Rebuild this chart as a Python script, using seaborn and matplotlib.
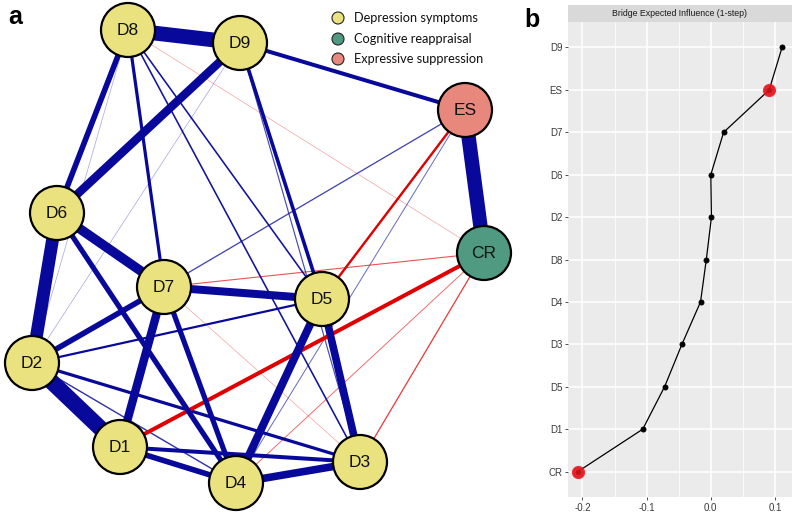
import matplotlib
matplotlib.use("Agg")
import matplotlib.pyplot as plt
from matplotlib.patches import Circle
import numpy as np
import pandas as pd
import seaborn as sns

# ---------------- data ----------------
# network nodes (layout coordinates, y downward)
node_names = ["D1", "D2", "D3", "D4", "D5", "D6", "D7", "D8", "D9", "CR", "ES"]
node_x = [120, 32, 360, 236, 322, 57, 164, 128, 240, 484, 465]
node_y = [447, 363, 462, 483, 299, 213, 287, 30, 43, 253, 110]
node_group = ["Depression symptoms"] * 9 + ["Cognitive reappraisal", "Expressive suppression"]

group_names = ["Depression symptoms", "Cognitive reappraisal", "Expressive suppression"]
group_colors = ["#EAE27E", "#4F9A80", "#E8877B"]

# edges (signed partial-correlation-like weights)
edge_from = ["D8", "ES", "D2", "D6", "D6", "D9", "D7", "D7", "D5", "D5", "D4",
             "D8", "D7", "D6", "D7", "D1", "D9", "D9", "D1", "D8", "D2", "D2",
             "D2", "D8", "D8", "D7", "D9", "ES", "D8", "D9",
             "CR", "ES", "CR", "D7", "CR", "D8", "D7"]
edge_to = ["D9", "CR", "D1", "D2", "D7", "D6", "D5", "D1", "D4", "D3", "D3",
           "D6", "D2", "D4", "D4", "D4", "ES", "D5", "D3", "D7", "D3", "D5",
           "D4", "D5", "D3", "ES", "D3", "D4", "D2", "D2",
           "D1", "D5", "D3", "CR", "D4", "CR", "D3"]
edge_weight = [0.37, 0.36, 0.40, 0.32, 0.24, 0.21, 0.20, 0.21, 0.20, 0.19, 0.19,
               0.14, 0.14, 0.13, 0.13, 0.14, 0.10, 0.09, 0.10, 0.08, 0.08, 0.055,
               0.035, 0.04, 0.04, 0.032, 0.03, 0.025, 0.015, 0.015,
               -0.10, -0.06, -0.032, -0.028, -0.024, -0.015, -0.015]

# bridge expected influence (1-step)
bei_nodes = ["D9", "ES", "D7", "D6", "D2", "D8", "D4", "D3", "D5", "D1", "CR"]
bei_values = [0.111, 0.091, 0.020, 0.000, 0.001, -0.007, -0.016, -0.045, -0.072, -0.106, -0.207]
bridge_nodes = ["ES", "CR"]

pos_col = "#08089A"
neg_col = "#E00000"

# ---------------- figure ----------------
W, H = 796, 513
fig = plt.figure(figsize=(W / 100, H / 100), dpi=100)

# ---- panel a: network ----
ax = fig.add_axes([0, 0, 520 / W, 1])
ax.set_xlim(0, 520)
ax.set_ylim(H, 0)
ax.axis("off")

pos = {n: (x, y) for n, x, y in zip(node_names, node_x, node_y)}
order = np.argsort(np.abs(edge_weight))
for i in order:
    a, b, w = edge_from[i], edge_to[i], edge_weight[i]
    (x0, y0), (x1, y1) = pos[a], pos[b]
    px = max(0.7, 40 * abs(w))
    alpha = min(1.0, abs(w) * 24)
    ax.plot([x0, x1], [y0, y1], color=pos_col if w > 0 else neg_col,
            lw=px * 0.72, alpha=alpha, solid_capstyle="butt", zorder=1)

gcol = dict(zip(group_names, group_colors))
for n, x, y, g in zip(node_names, node_x, node_y, node_group):
    ax.add_patch(Circle((x, y), 27, facecolor=gcol[g], edgecolor="black",
                        lw=1.6, zorder=3))
    ax.text(x, y + 0.5, n, ha="center", va="center", fontsize=12.5,
            family="Liberation Sans", color="#111111", zorder=4)

leg_y = [18, 39, 59]
for g, c, yy in zip(group_names, group_colors, leg_y):
    ax.add_patch(Circle((338, yy), 6, facecolor=c, edgecolor="#222222", lw=0.8, zorder=3))
    ax.text(354, yy, g, ha="left", va="center", fontsize=9.2, family="Lato",
            color="#111111", zorder=4)

fig.text(8 / W, 1 - 24 / H, "a", fontsize=18, fontweight="bold",
         family="Liberation Sans", ha="left", va="baseline")
fig.text(524 / W, 1 - 27 / H, "b", fontsize=18, fontweight="bold",
         family="Liberation Sans", ha="left", va="baseline")

# ---- panel b: bridge expected influence ----
ax2 = fig.add_axes([568 / W, 16 / H, 224 / W, 475 / H])
ax2.set_facecolor("#EBEBEB")
df = pd.DataFrame({"node": bei_nodes, "value": bei_values})
sns.pointplot(data=df, x="value", y="node", order=bei_nodes, orient="h",
              color="black", markersize=3.6, linewidth=0.9, errorbar=None, ax=ax2)
df_b = df[df["node"].isin(bridge_nodes)]
sns.pointplot(data=df_b, x="value", y="node", order=bei_nodes, orient="h",
              color="#E8141C", markersize=7.5, linestyle="none", alpha=0.85,
              errorbar=None, ax=ax2)

ax2.set_xlim(-0.2225, 0.1265)
ax2.set_ylim(len(bei_nodes) - 0.4, -0.6)
ax2.set_xticks([-0.2, -0.1, 0.0, 0.1])
ax2.set_xticklabels(["-0.2", "-0.1", "0.0", "0.1"])
ax2.set_xticks([-0.15, -0.05, 0.05], minor=True)
ax2.set_xlabel("")
ax2.set_ylabel("")
for s in ax2.spines.values():
    s.set_visible(False)
ax2.set_axisbelow(True)
ax2.grid(which="major", color="white", lw=1.1)
ax2.grid(which="minor", axis="x", color="white", lw=0.55)
ax2.tick_params(which="major", length=2.5, width=0.6, color="#333333",
                labelsize=7, labelcolor="#3A3A3A", pad=1.5)
ax2.tick_params(which="minor", length=0)
for lab in ax2.get_xticklabels() + ax2.get_yticklabels():
    lab.set_family("Liberation Sans")

strip = fig.add_axes([568 / W, 1 - 22 / H, 224 / W, 17 / H])
strip.set_facecolor("#D9D9D9")
strip.set_xticks([])
strip.set_yticks([])
for s in strip.spines.values():
    s.set_visible(False)
strip.text(0.5, 0.5, "Bridge Expected Influence (1-step)", ha="center", va="center",
           fontsize=6.3, family="Liberation Sans", color="#1A1A1A",
           transform=strip.transAxes)

fig.savefig("out.png", dpi=100)
